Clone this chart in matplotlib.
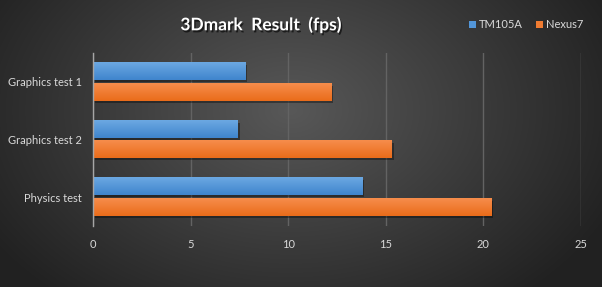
import numpy as np
import matplotlib
matplotlib.use("Agg")
import matplotlib.pyplot as plt
import matplotlib.patheffects as pe
from matplotlib.colors import LinearSegmentedColormap

categories = ["Graphics test 1", "Graphics test 2", "Physics test"]
series_names = ["TM105A", "Nexus7"]
tm105a = [7.8, 7.4, 13.8]
nexus7 = [12.2, 15.3, 20.4]
xticks = [0, 5, 10, 15, 20, 25]
title = "3Dmark  Result  (fps)"

plt.rcParams['font.family'] = ['Lato', 'DejaVu Sans']

W, H = 602, 287
fig = plt.figure(figsize=(W / 100, H / 100), dpi=100)

# background radial gradient
bg = fig.add_axes([0, 0, 1, 1], zorder=-10)
yy, xx = np.mgrid[0:H, 0:W]
cx, cy = 290, 110
r = np.sqrt(((xx - cx) / 330.0) ** 2 + ((yy - cy) / 230.0) ** 2)
val = np.clip(0.345 - 0.2 * r, 0.13, 0.36)
bg.imshow(np.dstack([val, val, val]), aspect='auto', extent=[0, 1, 0, 1], origin='upper')
bg.axis('off')

ax = fig.add_axes([93 / W, 1 - 226 / H, (581 - 93) / W, (226 - 53) / H])
ax.set_facecolor('none')

y = np.arange(len(categories))
h = 0.295
off = 0.18
blue_cm = LinearSegmentedColormap.from_list('b', ['#6ca8e2', '#3f85cd'])
orange_cm = LinearSegmentedColormap.from_list('o', ['#f68d4c', '#ea6c1a'])

shadow = [pe.SimplePatchShadow(offset=(1.5, -1.5), shadow_rgbFace='black', alpha=0.35), pe.Normal()]
b1 = ax.barh(y - off, tm105a, height=h, color='#5295d8', label=series_names[0], zorder=3,
             path_effects=shadow)
b2 = ax.barh(y + off, nexus7, height=h, color='#ef7b31', label=series_names[1], zorder=3,
             path_effects=shadow)

grad = np.linspace(0, 1, 64).reshape(-1, 1)
for bars, cm in ((b1, blue_cm), (b2, orange_cm)):
    for p in bars:
        x0, y0 = p.get_x(), p.get_y()
        w, hh = p.get_width(), p.get_height()
        ax.imshow(grad, cmap=cm, aspect='auto', extent=[x0, x0 + w, y0 + hh, y0],
                  origin='upper', zorder=4, interpolation='bilinear')

ax.set_xlim(0, 25)
ax.set_ylim(2.5, -0.5)
ax.set_xticks(xticks)
ax.set_yticks(y)
ax.set_yticklabels(categories)
ax.grid(axis='x', color='#636363', linewidth=1, zorder=0)
ax.set_axisbelow(True)
for s in ['top', 'right', 'bottom']:
    ax.spines[s].set_visible(False)
ax.spines['left'].set_color('#a6a6a6')
ax.spines['left'].set_linewidth(1)
ax.spines['left'].set_zorder(5)
ax.tick_params(axis='both', length=0, colors='#d9d9d9', labelsize=8)
ax.tick_params(axis='x', pad=9)
ax.tick_params(axis='y', pad=8)

fig.text(261 / W, 1 - 25 / H, title, ha='center', va='center', color='white',
         fontsize=12.5, fontweight='bold',
         path_effects=[pe.withSimplePatchShadow(offset=(1, -1.5), shadow_rgbFace='black', alpha=0.6)])

leg = fig.legend(handles=[b1, b2], labels=series_names, loc='center left',
                 bbox_to_anchor=(465 / W, 1 - 25 / H), ncol=2, frameon=False,
                 fontsize=8, labelcolor='#d9d9d9', handlelength=0.6, handleheight=0.6,
                 handletextpad=0.25, columnspacing=1.2, borderaxespad=0)
for hnd in leg.legend_handles:
    hnd.set_path_effects([])

fig.savefig('out.png', dpi=100)
